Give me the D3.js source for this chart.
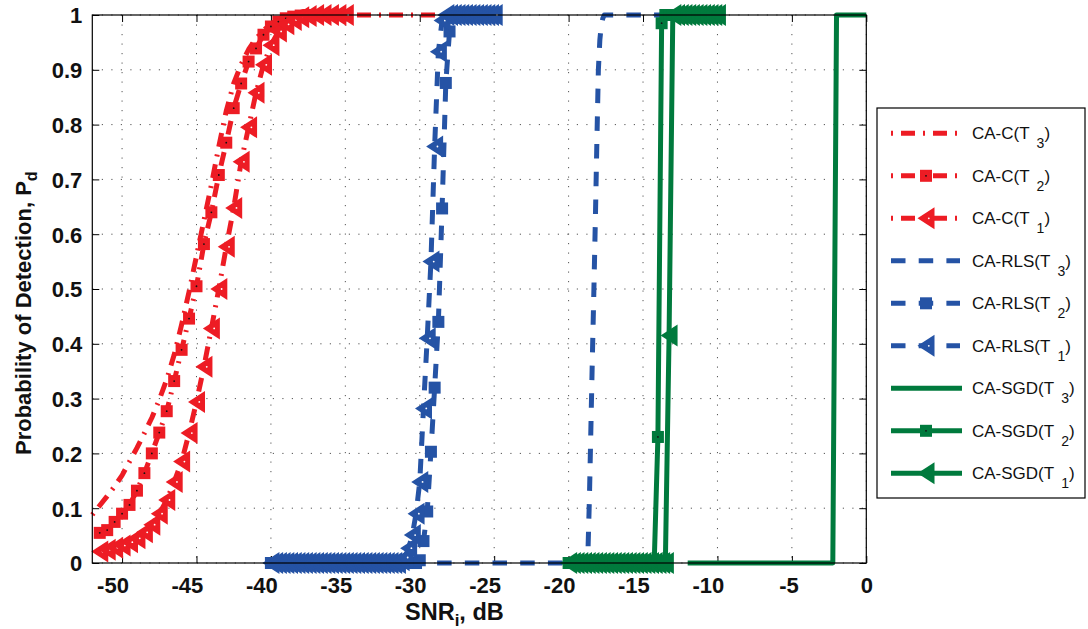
<!DOCTYPE html>
<html><head><meta charset="utf-8">
<script src="https://cdn.jsdelivr.net/npm/d3@7"></script>
<style>body{margin:0;background:#fff}svg{display:block}</style>
</head><body>
<svg id="c" width="1088" height="629"></svg>
<script>
// ---------- data ----------
const xTickValues = [-50,-45,-40,-35,-30,-25,-20,-15,-10,-5,0];
const xTickLabels = ["-50","-45","-40","-35","-30","-25","-20","-15","-10","-5","0"];
const yTickValues = [0,0.1,0.2,0.3,0.4,0.5,0.6,0.7,0.8,0.9,1];
const yTickLabels = ["0","0.1","0.2","0.3","0.4","0.5","0.6","0.7","0.8","0.9","1"];

// CA-C
const cT3X = [-52,-51.5,-51,-50.5,-50,-49.5,-49,-48.5,-48,-47.5,-47,-46.5,-46,-45.5,-45,-44.5,-44,-43.5,-43,-42.5,-42,-41.5,-41,-40.5,-40,-39.5,-39,-38.5,-38,-37.5,-37,-36.5,-36,-35.5,-35,-34.5,-34,-33.5,-33,-32.5,-32,-31.5,-31,-30.5,-30,-29.5,-29,-28.5,-28];
const cT3 = [0.088,0.105,0.122,0.14,0.16,0.185,0.21,0.237,0.265,0.298,0.335,0.38,0.435,0.495,0.56,0.625,0.69,0.76,0.825,0.875,0.91,0.937,0.957,0.972,0.984,0.991,0.996,0.998,1,1,1,1,1,1,1,1,1,1,1,1,1,1,1,1,1,1,1,1,1];
const cX = [-51.5,-51,-50.5,-50,-49.5,-49,-48.5,-48,-47.5,-47,-46.5,-46,-45.5,-45,-44.5,-44,-43.5,-43,-42.5,-42,-41.5,-41,-40.5,-40,-39.5,-39,-38.5,-38,-37.5,-37,-36.5,-36,-35.5,-35];
const cT2 = [0.055,0.06,0.075,0.09,0.106,0.132,0.164,0.2,0.238,0.277,0.332,0.389,0.446,0.505,0.582,0.64,0.708,0.767,0.83,0.875,0.915,0.939,0.964,0.979,0.988,0.994,0.997,0.999,1,1,1,1,1,1];
const cT1 = [0.021,0.024,0.028,0.032,0.038,0.045,0.056,0.07,0.09,0.115,0.148,0.185,0.237,0.294,0.358,0.428,0.5,0.577,0.648,0.732,0.795,0.858,0.909,0.945,0.97,0.983,0.991,0.996,0.998,1,1,1,1,1];

// CA-RLS
const rlsT3X = [-40,-18.8,-18.7,-18.6,-18.5,-18.4,-18.3,-18.2,-18.1,-18.0,-17.9,-17.8,-17.7,-17.6,-10];
const rlsT3 = [0,0,0.02,0.12,0.25,0.38,0.5,0.63,0.77,0.9,0.955,0.982,0.994,1,1];
const rlsX = [-40,-39.75,-39.5,-39.25,-39,-38.75,-38.5,-38.25,-38,-37.75,-37.5,-37.25,-37,-36.75,-36.5,-36.25,-36,-35.75,-35.5,-35.25,-35,-34.75,-34.5,-34.25,-34,-33.75,-33.5,-33.25,-33,-32.75,-32.5,-32.25,-32,-31.75,-31.5,-31.25,-31,-30.75,-30.5,-30.25,-30,-29.75,-29.5,-29.25,-29,-28.75,-28.5,-28.25,-28,-27.75,-27.5,-27.25,-27,-26.75,-26.5,-26.25,-26,-25.75,-25.5,-25.25,-25];
const rlsT2 = [0,0,0,0,0,0,0,0,0,0,0,0,0,0,0,0,0,0,0,0,0,0,0,0,0,0,0,0,0,0,0,0,0,0,0,0,0,0,0,0,0.005,0.04,0.094,0.203,0.32,0.44,0.647,0.876,0.97,0.995,1,1,1,1,1,1,1,1,1,1,1];
const rlsT1 = [0,0,0,0,0,0,0,0,0,0,0,0,0,0,0,0,0,0,0,0,0,0,0,0,0,0,0,0,0,0,0,0,0,0,0,0.005,0.01,0.027,0.051,0.09,0.148,0.282,0.41,0.55,0.76,0.933,0.99,1,1,1,1,1,1,1,1,1,1,1,1,1,1];

// CA-SGD
const sgdT3X = [-12,-2.25,-2,0];
const sgdT3 = [0,0,1,1];
const sgdX = [-20,-19.75,-19.5,-19.25,-19,-18.75,-18.5,-18.25,-18,-17.75,-17.5,-17.25,-17,-16.75,-16.5,-16.25,-16,-15.75,-15.5,-15.25,-15,-14.75,-14.5,-14.25,-14,-13.75,-13.5,-13.25,-13,-12.75,-12.5,-12.25,-12,-11.75,-11.5,-11.25,-11,-10.75,-10.5,-10.25,-10];
const sgdT2 = [0,0,0,0,0,0,0,0,0,0,0,0,0,0,0,0,0,0,0,0,0,0,0,0,0.23,0.985,1,1,1,1,1,1,1,1,1,1,1,1,1,1,1];
const sgdT1 = [0,0,0,0,0,0,0,0,0,0,0,0,0,0,0,0,0,0,0,0,0,0,0,0,0,0,0,0.415,1,1,1,1,1,1,1,1,1,1,1,1,1];

const legendNames = ["CA-C","CA-C","CA-C","CA-RLS","CA-RLS","CA-RLS","CA-SGD","CA-SGD","CA-SGD"];
const legendSubs = ["3","2","1","3","2","1","3","2","1"];

// ---------- styles ----------
const RED = "#ed1c24", BLUE = "#2553a5", GREEN = "#007a3d";
const DASHDOT = "2,8,14,8", DASH = "14.5,13.2";
const series = [
  {x:cT3X, y:cT3, color:RED, dash:DASHDOT, marker:null},
  {x:cX, y:cT2, color:RED, dash:DASHDOT, marker:"sq", dot:"#111"},
  {x:cX, y:cT1, color:RED, dash:DASHDOT, marker:"tri", dot:"#fff"},
  {x:rlsT3X, y:rlsT3, color:BLUE, dash:DASH, marker:null},
  {x:rlsX, y:rlsT2, color:BLUE, dash:DASH, marker:"sq", dot:null},
  {x:rlsX, y:rlsT1, color:BLUE, dash:DASH, marker:"tri", dot:"#fff"},
  {x:sgdT3X, y:sgdT3, color:GREEN, dash:null, marker:null},
  {x:sgdX, y:sgdT2, color:GREEN, dash:null, marker:"sq", dot:"#111"},
  {x:sgdX, y:sgdT1, color:GREEN, dash:null, marker:"tri", dot:null}
];

const FONT = "'Liberation Sans', Arial, Helvetica, sans-serif";
const L = 92.3, R = 866.3, T = 15, B = 563;
const svg = d3.select("#c");
const x = d3.scaleLinear().domain([-52,0]).range([L,R]);
const y = d3.scaleLinear().domain([0,1]).range([B,T]);

// grid
const grid = svg.append("g");
grid.selectAll("line.gx").data(xTickValues).join("line")
  .attr("x1",d=>x(d)).attr("x2",d=>x(d)).attr("y1",T).attr("y2",B);
grid.selectAll("line.gy").data(yTickValues).join("line")
  .attr("x1",L).attr("x2",R).attr("y1",d=>y(d)).attr("y2",d=>y(d));
grid.selectAll("line").attr("stroke","#555").attr("stroke-width",1).attr("stroke-dasharray","1.2,8.3");

// axes
const ax = svg.append("g").attr("transform",`translate(0,${B})`)
  .call(d3.axisBottom(x).tickValues(xTickValues).tickSize(-7).tickFormat((d,i)=>xTickLabels[i]));
const axT = svg.append("g").attr("transform",`translate(0,${T})`)
  .call(d3.axisTop(x).tickValues(xTickValues).tickSize(-7).tickFormat(""));
const ay = svg.append("g").attr("transform",`translate(${L},0)`)
  .call(d3.axisLeft(y).tickValues(yTickValues).tickSize(-7).tickFormat((d,i)=>yTickLabels[i]));
const ayR = svg.append("g").attr("transform",`translate(${R},0)`)
  .call(d3.axisRight(y).tickValues(yTickValues).tickSize(-7).tickFormat(""));
[ax,axT,ay,ayR].forEach(g=>{g.select(".domain").remove(); g.selectAll(".tick line").attr("stroke","#000").attr("stroke-width",1);});
ax.selectAll(".tick text").attr("font-family",FONT).attr("font-size",22).attr("font-weight","bold")
  .attr("fill","#111").attr("text-anchor","end").attr("x",6.3).attr("y",30).attr("dy",0);
ay.selectAll(".tick text").attr("font-family",FONT).attr("font-size",22).attr("font-weight","bold")
  .attr("fill","#111").attr("text-anchor","end").attr("x",-10).attr("dy","0.36em");

// data
const line = d3.line().x(d=>x(d[0])).y(d=>y(d[1]));
function marker(g, type, cx, cy, color, dot){
  if(type==="sq"){
    g.append("rect").attr("x",cx-6).attr("y",cy-6).attr("width",12).attr("height",12).attr("fill",color);
    if(dot) g.append("circle").attr("cx",cx).attr("cy",cy).attr("r",0.9).attr("fill",dot);
  } else if(type==="tri"){
    g.append("path").attr("d",`M${cx-8.5},${cy}L${cx+8.5},${cy-11}L${cx+8.5},${cy+11}Z`).attr("fill",color);
    if(dot) g.append("circle").attr("cx",cx+2.8).attr("cy",cy).attr("r",0.9).attr("fill",dot);
  }
}
const plot = svg.append("g");
series.forEach(s=>{
  const pts = s.x.map((v,i)=>[v,s.y[i]]);
  const g = plot.append("g");
  g.append("path").attr("d",line(pts)).attr("fill","none").attr("stroke",s.color)
    .attr("stroke-width",5).attr("stroke-linejoin","round")
    .attr("stroke-dasharray",s.dash||null);
  if(s.marker) pts.forEach(p=>marker(g,s.marker,x(p[0]),y(p[1]),s.color,s.dot));
});

// frame
svg.append("rect").attr("x",L).attr("y",T).attr("width",R-L).attr("height",B-T)
  .attr("fill","none").attr("stroke","#000").attr("stroke-width",1.2);

// axis titles
const xt = svg.append("text").attr("x",405).attr("y",620).attr("font-family",FONT)
  .attr("font-size",23.5).attr("font-weight","bold").attr("fill","#111");
xt.append("tspan").text("SNR");
xt.append("tspan").attr("font-size",17).attr("dy",6).text("i");
xt.append("tspan").attr("dy",-6).text(", dB");
const yt = svg.append("text").attr("transform","translate(31,455) rotate(-90)")
  .attr("font-family",FONT).attr("font-size",22).attr("font-weight","bold").attr("fill","#111");
yt.append("tspan").text("Probability of Detection, P");
yt.append("tspan").attr("font-size",16).attr("dy",6).text("d");

// legend
const lg = svg.append("g");
lg.append("rect").attr("x",877).attr("y",108).attr("width",208).attr("height",390)
  .attr("fill","#fff").attr("stroke","#000").attr("stroke-width",1.2);
series.forEach((s,i)=>{
  const ly = 133.3 + i*42.5;
  const g = lg.append("g");
  g.append("line").attr("x1",891).attr("x2",s.dash?960:962).attr("y1",ly).attr("y2",ly)
    .attr("stroke",s.color).attr("stroke-width",5).attr("stroke-dasharray",s.dash||null);
  if(s.marker) marker(g,s.marker,926,ly,s.color,s.dot);
  const t = g.append("text").attr("x",972).attr("y",ly+6).attr("font-family",FONT)
    .attr("font-size",17).attr("fill","#111");
  t.append("tspan").text(legendNames[i]+"(T");
  t.append("tspan").attr("dx",7).attr("dy",9).attr("font-size",14).text(legendSubs[i]);
  t.append("tspan").attr("dy",-9).text(")");
});
</script>
</body></html>
